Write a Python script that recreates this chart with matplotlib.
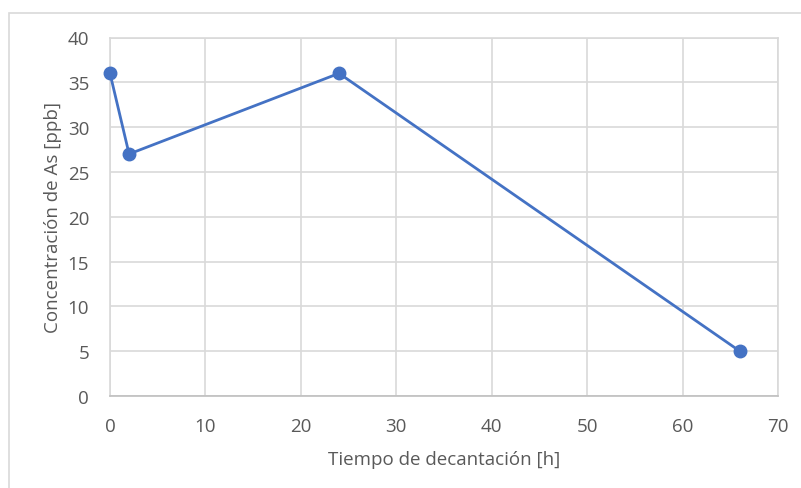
import matplotlib
matplotlib.use("Agg")
import matplotlib.pyplot as plt
from matplotlib.patches import Rectangle

# datos
tiempo = [0, 2, 24, 66]
conc_as = [36, 27, 36, 5]
xticks = [0, 10, 20, 30, 40, 50, 60, 70]
yticks = [0, 5, 10, 15, 20, 25, 30, 35, 40]

plt.rcParams['font.family'] = ['Open Sans', 'DejaVu Sans']

W, H = 801, 489
fig = plt.figure(figsize=(W / 100, H / 100), dpi=100)
fig.patch.set_facecolor('white')

# marco del grafico (estilo Excel)
fig.patches.append(Rectangle((9 / W, -0.1), 1.2, 1 - 14 / H + 0.1, transform=fig.transFigure,
                             fill=False, edgecolor='#d9d9d9', linewidth=1.2))

ax = fig.add_axes([110 / W, 1 - 397 / H, (778 - 110) / W, (397 - 38.5) / H])

ax.plot(tiempo, conc_as, '-o', color='#4472c4', linewidth=2, markersize=9, zorder=3, clip_on=False)

ax.set_xlim(0, 70)
ax.set_ylim(0, 40)
ax.set_xticks(xticks)
ax.set_yticks(yticks)
ax.grid(True, color='#d9d9d9', linewidth=1.2)
ax.set_axisbelow(True)
for s in ['top', 'right', 'left']:
    ax.spines[s].set_color('#d9d9d9')
    ax.spines[s].set_linewidth(1.2)
ax.spines['bottom'].set_color('#bfbfbf')
ax.spines['bottom'].set_linewidth(1.2)
ax.tick_params(length=0, labelsize=13.5, colors='#595959')
ax.tick_params(axis='y', pad=15)
ax.tick_params(axis='x', pad=15)

ax.set_xlabel('Tiempo de decantación [h]', fontsize=13.5, color='#595959', labelpad=11)
ax.set_ylabel('Concentración de As [ppb]', fontsize=13.5, color='#595959', labelpad=4)

plt.savefig('out.png', dpi=100)
